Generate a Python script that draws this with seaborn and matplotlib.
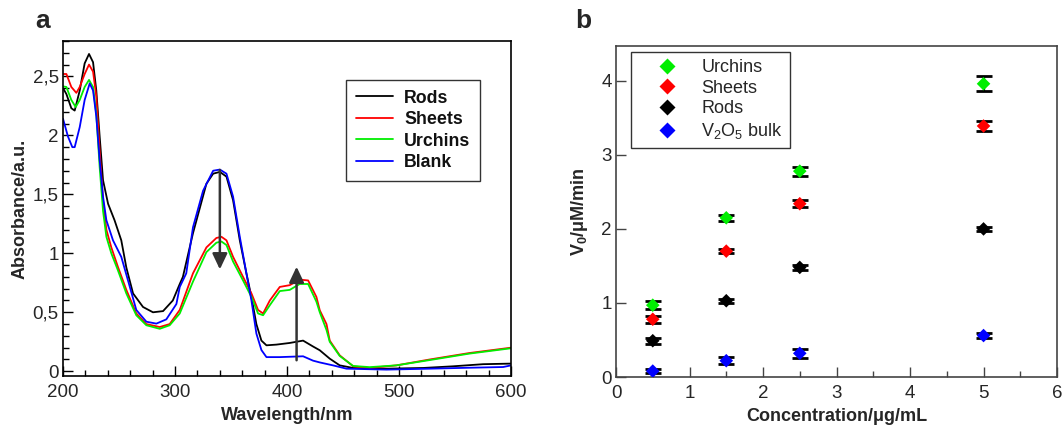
import matplotlib
matplotlib.use('Agg')
import matplotlib.pyplot as plt
import matplotlib.ticker as mticker
import seaborn as sns
import pandas as pd

# ---------------- panel a : UV-vis spectra ----------------
rods_wl = [200, 203, 207.4, 210.4, 214.9, 219.3, 223.2, 226.8, 229.7, 232.7, 235.7, 240.2, 246, 252,
           256.5, 262.5, 271.4, 280.3, 289.3, 298, 304.2, 307, 316, 328, 334, 340, 345.9, 351.8, 357.8,
           363.7, 368.2, 372.6, 377.1, 381.6, 390.5, 402.4, 414.3, 423.2, 429.2, 438.1, 447, 459, 488.7,
           521.5, 548, 575, 600]
rods_abs = [2.40, 2.35, 2.23, 2.21, 2.38, 2.61, 2.69, 2.62, 2.38, 1.99, 1.62, 1.42, 1.28, 1.11,
            0.88, 0.66, 0.545, 0.50, 0.51, 0.60, 0.74, 0.80, 1.17, 1.59, 1.675, 1.69, 1.65, 1.45, 1.11,
            0.83, 0.63, 0.40, 0.26, 0.22, 0.226, 0.24, 0.26, 0.21, 0.178, 0.107, 0.05, 0.028, 0.022,
            0.028, 0.042, 0.06, 0.065]

sheets_wl = [200, 203, 207.4, 211.9, 214.9, 219.3, 223.2, 226.8, 229.7, 232.7, 235.7, 238.7, 243.1, 249,
             256.5, 265.4, 274.4, 286.3, 295.2, 304.2, 316, 328, 336.9, 341.4, 345.9, 351.8, 360.7,
             368.2, 374.1, 378.6, 384.6, 393.5, 402.4, 411.3, 418.8, 426.2, 429.2, 435.2, 438.1, 447,
             459, 473.8, 497.6, 527.4, 563, 600]
sheets_abs = [2.52, 2.52, 2.41, 2.36, 2.41, 2.52, 2.60, 2.54, 2.33, 1.87, 1.45, 1.20, 1.05, 0.885,
              0.69, 0.49, 0.40, 0.375, 0.40, 0.52, 0.83, 1.05, 1.13, 1.14, 1.11, 0.97, 0.80,
              0.66, 0.52, 0.49, 0.60, 0.715, 0.73, 0.777, 0.77, 0.63, 0.517, 0.40, 0.26, 0.135,
              0.042, 0.028, 0.05, 0.10, 0.155, 0.20]

urchins_wl = [200, 203, 207.4, 211.3, 214.9, 219.3, 223.2, 226.8, 229.7, 232.7, 235.7, 238.7, 243.1, 249,
              256.5, 265.4, 274.4, 286.3, 295.2, 304.2, 316, 328, 336.9, 341.4, 345.9, 351.8, 360.7,
              368.2, 374.1, 378.6, 384.6, 393.5, 402.4, 411.3, 418.8, 426.2, 429.2, 435.2, 438.1, 447,
              459, 473.8, 497.6, 527.4, 563, 600]
urchins_abs = [2.415, 2.41, 2.30, 2.24, 2.30, 2.41, 2.47, 2.41, 2.18, 1.73, 1.36, 1.14, 1.00, 0.856,
               0.66, 0.475, 0.39, 0.36, 0.39, 0.49, 0.76, 1.01, 1.09, 1.10, 1.07, 0.93, 0.77,
               0.63, 0.49, 0.475, 0.56, 0.68, 0.69, 0.74, 0.74, 0.59, 0.50, 0.35, 0.25, 0.13,
               0.045, 0.035, 0.05, 0.095, 0.15, 0.195]

blank_wl = [200, 204.4, 208.3, 210.4, 214.9, 219.3, 223.8, 226.8, 229.7, 232.7, 235.7, 238.7, 244.6, 252,
            258, 265.4, 274.4, 283.3, 292.2, 301.2, 304.2, 310, 316, 325, 334, 340, 345.9, 351.8, 357.8,
            363.7, 368.2, 372.6, 377.1, 381.6, 393.5, 414.3, 423.2, 429.2, 441, 453, 488.7, 527.4, 563,
            592.9, 600]
blank_abs = [2.14, 1.99, 1.90, 1.90, 2.07, 2.30, 2.44, 2.38, 2.16, 1.79, 1.48, 1.28, 1.11, 0.97,
             0.77, 0.52, 0.42, 0.404, 0.44, 0.57, 0.715, 0.83, 1.22, 1.53, 1.70, 1.71, 1.675, 1.48, 1.14,
             0.83, 0.60, 0.32, 0.18, 0.12, 0.12, 0.127, 0.09, 0.075, 0.05, 0.022, 0.014, 0.022, 0.03,
             0.036, 0.05]

# ---------------- panel b : initial rates ----------------
conc = [0.5, 1.5, 2.5, 5]
v_urchins = [0.97, 2.15, 2.78, 3.96]
v_sheets = [0.78, 1.70, 2.34, 3.39]
v_rods = [0.49, 1.03, 1.48, 2.00]
v_bulk = [0.08, 0.22, 0.32, 0.56]
e_urchins = [0.05, 0.04, 0.06, 0.10]
e_sheets = [0.05, 0.03, 0.05, 0.07]
e_rods = [0.04, 0.03, 0.03, 0.03]
e_bulk = [0.03, 0.05, 0.06, 0.03]

sns.set_style('white')
plt.rcParams['font.family'] = ['Liberation Sans', 'DejaVu Sans']
plt.rcParams['mathtext.fontset'] = 'custom'
plt.rcParams['mathtext.rm'] = 'Liberation Sans'
plt.rcParams['mathtext.bf'] = 'Liberation Sans:bold'

fig = plt.figure(figsize=(10.63, 4.26), dpi=100)
ax1 = fig.add_axes([0.0593, 0.1174, 0.4215, 0.7864])
ax2 = fig.add_axes([0.5795, 0.115, 0.4149, 0.777])

spec = pd.concat([
    pd.DataFrame({'wl': rods_wl, 'A': rods_abs, 'sample': 'Rods'}),
    pd.DataFrame({'wl': sheets_wl, 'A': sheets_abs, 'sample': 'Sheets'}),
    pd.DataFrame({'wl': urchins_wl, 'A': urchins_abs, 'sample': 'Urchins'}),
    pd.DataFrame({'wl': blank_wl, 'A': blank_abs, 'sample': 'Blank'}),
])
spec_cols = {'Rods': 'black', 'Sheets': '#ff0000', 'Urchins': '#00ee00', 'Blank': '#0000ff'}
sns.lineplot(data=spec, x='wl', y='A', hue='sample', palette=spec_cols, sort=False,
             estimator=None, linewidth=1.3, ax=ax1)

# arrows
ax1.annotate('', xy=(340, 0.84), xytext=(340, 1.73),
             arrowprops=dict(arrowstyle='-|>,head_width=0.45,head_length=0.95', color='#333333', lw=1.8))
ax1.annotate('', xy=(408.5, 0.91), xytext=(408.5, 0.07),
             arrowprops=dict(arrowstyle='-|>,head_width=0.45,head_length=0.95', color='#333333', lw=1.8))

ax1.set_xlim(200, 600)
ax1.set_ylim(-0.04, 2.8)
ax1.xaxis.set_major_locator(mticker.MultipleLocator(100))
ax1.xaxis.set_minor_locator(mticker.MultipleLocator(20))
ax1.yaxis.set_major_locator(mticker.MultipleLocator(0.5))
ax1.yaxis.set_minor_locator(mticker.MultipleLocator(0.1))
ax1.yaxis.set_major_formatter(mticker.FuncFormatter(lambda v, p: ('%g' % v).replace('.', ',')))
ax1.set_xlabel('Wavelength/nm', fontsize=13, fontweight='bold', labelpad=4)
ax1.set_ylabel('Absorbance/a.u.', fontsize=13, fontweight='bold', labelpad=3)
leg1 = ax1.legend(loc='upper left', bbox_to_anchor=(0.632, 0.884), borderaxespad=0, frameon=True,
                  fancybox=False, edgecolor='black', prop={'weight': 'bold', 'size': 12.8},
                  handlelength=2.1, handletextpad=0.6, labelspacing=0.25, borderpad=0.55)
leg1.get_frame().set_linewidth(1.0)
for t in leg1.get_texts():
    t.set_color('#111111')

# panel b
rate = pd.concat([
    pd.DataFrame({'c': conc, 'v': v_urchins, 'e': e_urchins, 'sample': 'Urchins'}),
    pd.DataFrame({'c': conc, 'v': v_sheets, 'e': e_sheets, 'sample': 'Sheets'}),
    pd.DataFrame({'c': conc, 'v': v_rods, 'e': e_rods, 'sample': 'Rods'}),
    pd.DataFrame({'c': conc, 'v': v_bulk, 'e': e_bulk, 'sample': 'V$_2$O$_5$ bulk'}),
])
rate_cols = {'Urchins': '#00ee00', 'Sheets': '#ff0000', 'Rods': 'black', 'V$_2$O$_5$ bulk': '#0000ff'}
ax2.errorbar(rate['c'], rate['v'], yerr=rate['e'], fmt='none', ecolor='black', elinewidth=1.6,
             capsize=5.6, capthick=2.0, zorder=2)
sns.scatterplot(data=rate, x='c', y='v', hue='sample', palette=rate_cols, marker='D', s=48,
                edgecolor='none', zorder=3, ax=ax2)

ax2.set_xlim(0, 6)
ax2.set_ylim(0, 4.47)
ax2.xaxis.set_major_locator(mticker.MultipleLocator(1))
ax2.xaxis.set_minor_locator(mticker.MultipleLocator(0.5))
ax2.yaxis.set_major_locator(mticker.MultipleLocator(1))
ax2.set_xlabel('Concentration/μg/mL', fontsize=13, fontweight='bold', labelpad=4)
ax2.set_ylabel('V$_\\mathbf{0}$/μM/min', fontsize=13, fontweight='bold', labelpad=8)
leg2 = ax2.legend(loc='upper left', bbox_to_anchor=(0.034, 0.982), borderaxespad=0, frameon=True,
                  fancybox=False, edgecolor='black', fontsize=13, handlelength=3.2,
                  handletextpad=0.3, labelspacing=0.2, borderpad=0.4, markerscale=1.15)
leg2.get_frame().set_linewidth(1.0)

for ax, sc in ((ax1, 'black'), (ax2, '#444444')):
    for s in ax.spines.values():
        s.set_visible(True)
        s.set_color(sc)
        s.set_linewidth(1.2)
    ax.tick_params(which='both', direction='in', top=False, right=False, left=True, bottom=True,
                   labelsize=13.5, color=sc)
    ax.tick_params(which='major', length=7, width=1.0)
    ax.tick_params(which='minor', length=4, width=1.0)
    ax.tick_params(axis='x', which='major', pad=6)
    ax.tick_params(axis='y', which='major', pad=3)

fig.text(0.033, 0.935, 'a', fontsize=19, fontweight='bold')
fig.text(0.541, 0.935, 'b', fontsize=19, fontweight='bold')

fig.savefig('out.png', dpi=100)
